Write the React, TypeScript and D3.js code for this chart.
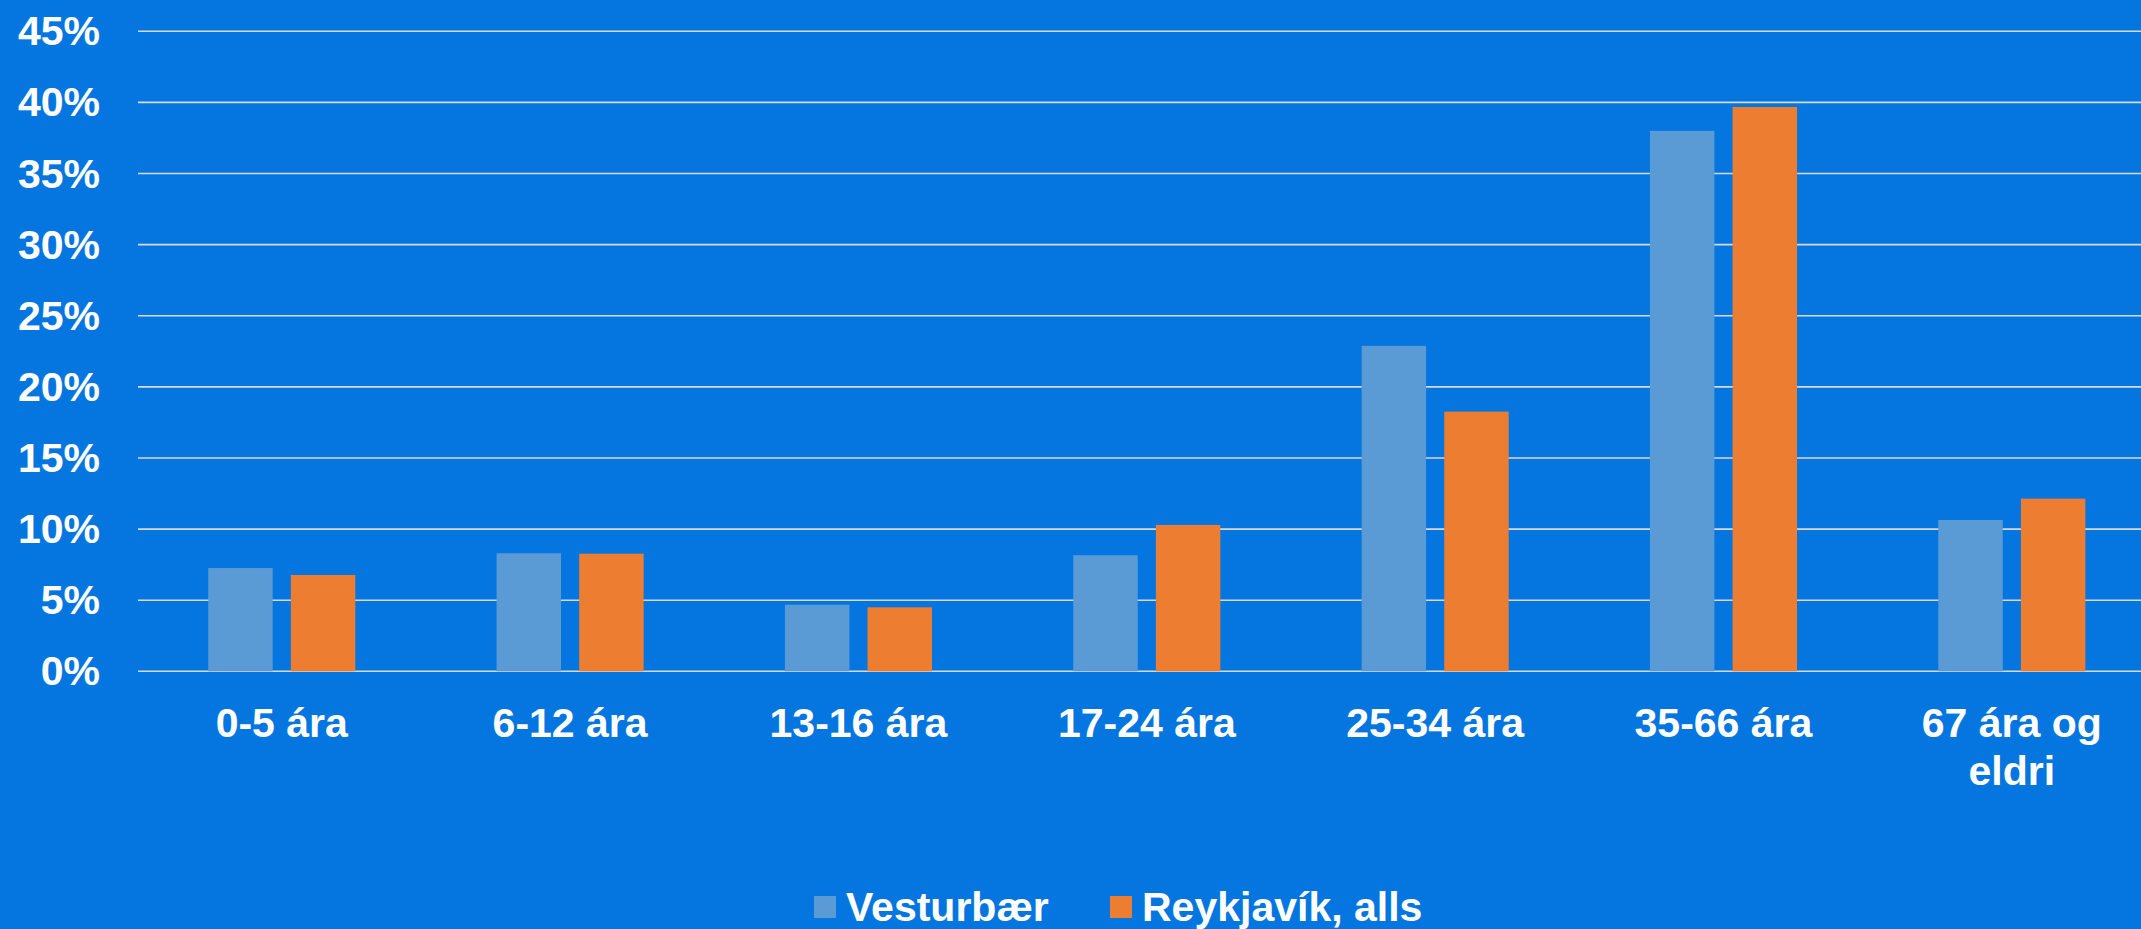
import React from "react";
import * as d3 from "d3";

const categories: string[][] = [
  ["0-5 ára"],
  ["6-12 ára"],
  ["13-16 ára"],
  ["17-24 ára"],
  ["25-34 ára"],
  ["35-66 ára"],
  ["67 ára og", "eldri"],
];
const seriesNames = ["Vesturbær", "Reykjavík, alls"];
const vesturbaer = [7.26, 8.3, 4.68, 8.16, 22.88, 38.0, 10.64];
const reykjavik = [6.77, 8.27, 4.5, 10.29, 18.26, 39.68, 12.14];
const yTicks = [0, 5, 10, 15, 20, 25, 30, 35, 40, 45];
const colors = ["#5B9BD5", "#ED7D31"];

const W = 2141;
const H = 929;
const FONT = "'Liberation Sans', Arial, sans-serif";

export default function App() {
  const keys = categories.map((c) => c.join(" "));
  const x0 = d3
    .scaleBand<string>()
    .domain(keys)
    .range([137.6, 2156])
    .paddingInner(0.49)
    .paddingOuter(0.245);
  const x1 = d3
    .scaleBand<string>()
    .domain(seriesNames)
    .range([0, x0.bandwidth()])
    .paddingInner(0.22)
    .paddingOuter(0);
  const y = d3.scaleLinear().domain([0, 45]).range([671.3, 31.3]);
  const data = [vesturbaer, reykjavik];

  return (
    <svg
      width={W}
      height={H}
      style={{ position: "absolute", left: 0, top: 0, display: "block" }}
    >
      <rect x={0} y={0} width={W} height={H} fill="#0576E0" />
      {yTicks.map((t) => (
        <g key={t}>
          <line
            x1={138}
            x2={W}
            y1={y(t)}
            y2={y(t)}
            stroke="#D9D9D9"
            strokeWidth={1.6}
          />
          <text
            x={100}
            y={y(t) + 14}
            textAnchor="end"
            fill="#FFFFFF"
            fontFamily={FONT}
            fontWeight="bold"
            fontSize={41}
          >
            {t}%
          </text>
        </g>
      ))}
      {keys.map((k, i) => (
        <g key={k} transform={`translate(${x0(k)},0)`}>
          {seriesNames.map((s, j) => (
            <rect
              key={s}
              x={x1(s)}
              y={y(data[j][i])}
              width={x1.bandwidth()}
              height={y(0) - y(data[j][i])}
              fill={colors[j]}
            />
          ))}
        </g>
      ))}
      {categories.map((lines, i) => (
        <text
          key={i}
          x={(x0(keys[i]) as number) + x0.bandwidth() / 2}
          y={736.7}
          textAnchor="middle"
          fill="#FFFFFF"
          fontFamily={FONT}
          fontWeight="bold"
          fontSize={41}
        >
          {lines.map((l, li) => (
            <tspan
              key={li}
              x={(x0(keys[i]) as number) + x0.bandwidth() / 2}
              dy={li === 0 ? 0 : 48.3}
            >
              {l}
            </tspan>
          ))}
        </text>
      ))}
      <g>
        <rect x={814} y={896} width={22} height={22} fill={colors[0]} />
        <text
          x={846}
          y={921}
          fill="#FFFFFF"
          fontFamily={FONT}
          fontWeight="bold"
          fontSize={41}
        >
          {seriesNames[0]}
        </text>
        <rect x={1110} y={896} width={22} height={22} fill={colors[1]} />
        <text
          x={1142}
          y={921}
          fill="#FFFFFF"
          fontFamily={FONT}
          fontWeight="bold"
          fontSize={41}
        >
          {seriesNames[1]}
        </text>
      </g>
    </svg>
  );
}
